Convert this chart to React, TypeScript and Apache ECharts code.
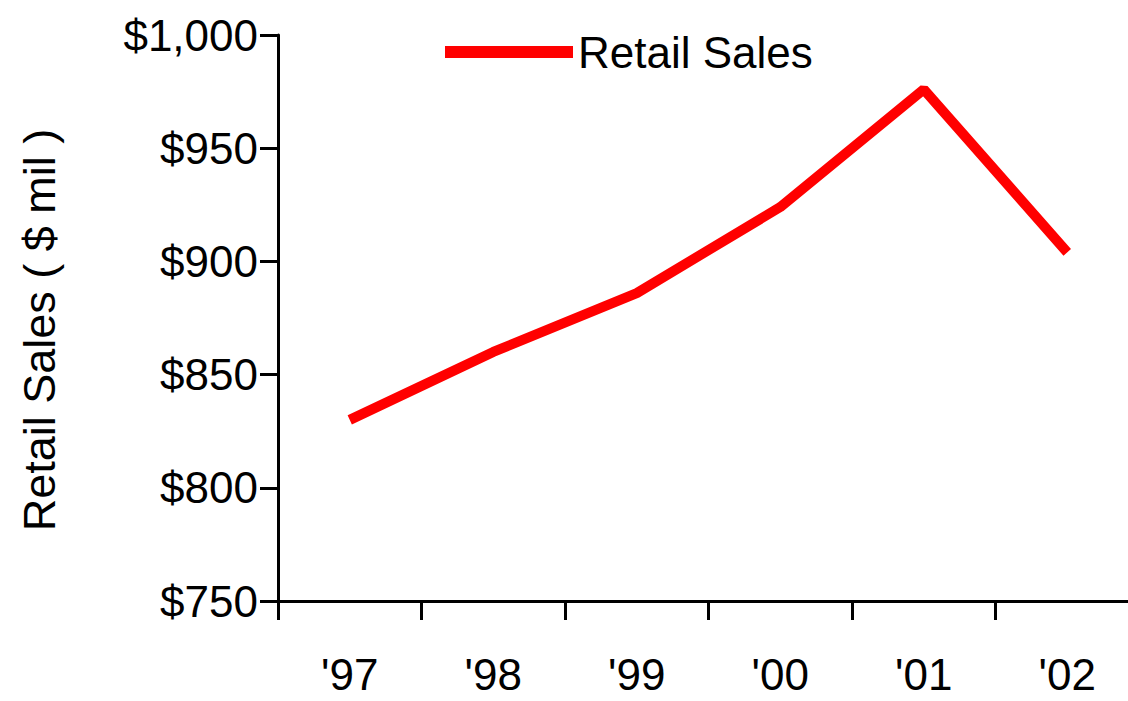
import React, { useEffect, useRef } from "react";
import * as echarts from "echarts";

const categories = ["'97", "'98", "'99", "'00", "'01", "'02"];
const retailSales = [830, 860, 886, 924, 976, 904];
const seriesName = "Retail Sales";
const yAxisTitle = "Retail Sales ( $ mil )";

const FONT = "'Liberation Sans Narrow', 'Arial Narrow', 'Liberation Sans', Arial, sans-serif";

export default function App() {
  const ref = useRef<HTMLDivElement>(null);
  useEffect(() => {
    const chart = echarts.init(ref.current!, null, { renderer: "svg" });
    chart.setOption({
      animation: false,
      backgroundColor: "#ffffff",
      textStyle: { fontFamily: FONT },
      legend: {
        data: [seriesName],
        top: 25,
        left: 440,
        itemWidth: 128,
        itemHeight: 12,
        itemGap: 9,
        icon: "rect",
        textStyle: { fontFamily: FONT, fontSize: 44, color: "#000" },
      },
      grid: { left: 278, top: 35, bottom: 100, right: -11, containLabel: false, outerBoundsMode: "none" },
      xAxis: {
        type: "category",
        data: categories,
        boundaryGap: true,
        axisLine: { lineStyle: { color: "#000", width: 3 } },
        axisTick: { show: true, length: 19, lineStyle: { color: "#000", width: 3 } },
        axisLabel: { fontFamily: FONT, fontSize: 44, color: "#000", margin: 51 },
        splitLine: { show: false },
      },
      yAxis: {
        type: "value",
        min: 750,
        max: 1000,
        interval: 50,
        name: yAxisTitle,
        nameLocation: "middle",
        nameRotate: 90,
        nameGap: 216,
        nameTextStyle: { fontFamily: FONT, fontSize: 45, color: "#000", padding: [0, 24, 0, 0] },
        axisLine: { show: true, lineStyle: { color: "#000", width: 3 } },
        axisTick: { show: true, length: 18, lineStyle: { color: "#000", width: 3 } },
        axisLabel: {
          fontFamily: FONT,
          fontSize: 44,
          color: "#000",
          margin: 20,
          formatter: (v: number) => "$" + v.toLocaleString("en-US"),
        },
        splitLine: { show: false },
      },
      series: [
        {
          name: seriesName,
          type: "line",
          data: retailSales,
          symbol: "none",
          lineStyle: { color: "#ff0000", width: 10 },
          itemStyle: { color: "#ff0000" },
        },
      ],
    });
    return () => chart.dispose();
  }, []);
  return <div ref={ref} style={{ width: 1128, height: 701, position: "absolute", left: 0, top: 0 }} />;
}
